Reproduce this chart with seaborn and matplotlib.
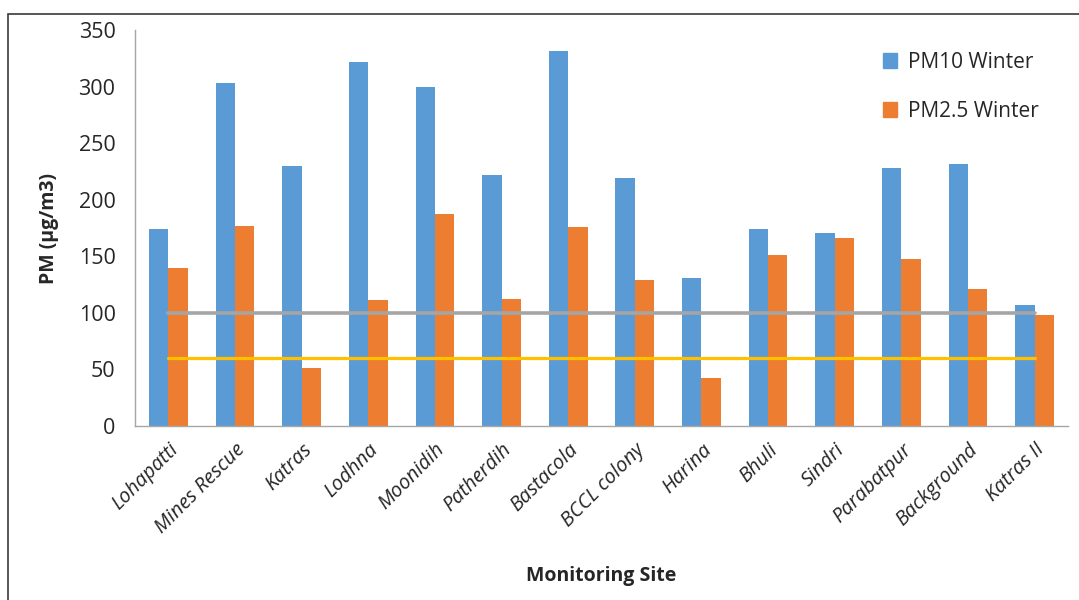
import matplotlib
matplotlib.use("Agg")
import matplotlib.pyplot as plt
import matplotlib.patches as mpatches
import seaborn as sns
import pandas as pd
import numpy as np

sites = ["Lohapatti", "Mines Rescue", "Katras", "Lodhna", "Moonidih", "Patherdih",
         "Bastacola", "BCCL colony", "Harina", "Bhuli", "Sindri", "Parabatpur",
         "Background", "Katras II"]
pm10_winter = [174, 303, 230, 322, 300, 222, 331, 219, 131, 174, 171, 228, 232, 107]
pm25_winter = [140, 177, 51, 111, 187, 112, 176, 129, 42, 151, 166, 148, 121, 98]
pm10_standard = 100
pm25_standard = 60
series_names = ["PM10 Winter", "PM2.5 Winter"]
yticks = [0, 50, 100, 150, 200, 250, 300, 350]

df = pd.DataFrame({
    "site": sites * 2,
    "value": pm10_winter + pm25_winter,
    "series": [series_names[0]] * len(sites) + [series_names[1]] * len(sites),
})

sns.set_style("white")
plt.rcParams["font.family"] = ["Open Sans", "DejaVu Sans"]

fig = plt.figure(figsize=(10.79, 6.0), dpi=100)
ax = fig.add_axes([135 / 1079, 1 - 426 / 600, 933 / 1079, 396 / 600])

palette = {series_names[0]: "#5B9BD5", series_names[1]: "#ED7D31"}
sns.barplot(data=df, x="site", y="value", hue="series", order=sites,
            hue_order=series_names, palette=palette, width=0.58, saturation=1,
            ax=ax, legend=False, linewidth=0)

n = len(sites)
ax.plot(range(n), [pm10_standard] * n, color="#A5A5A5", lw=2.6, zorder=3)
ax.plot(range(n), [pm25_standard] * n, color="#FFC000", lw=2.3, zorder=3)

ax.set_xlim(-0.5, n - 0.5)
ax.set_ylim(0, 350)
ax.set_yticks(yticks)
ax.set_yticklabels([str(v) for v in yticks], fontsize=15.5, color="#262626")
ax.set_xticks(range(n))
ax.set_xticklabels(sites, rotation=45, ha="right", rotation_mode="anchor",
                   fontsize=14.5, style="italic", color="#262626")
ax.tick_params(axis="x", which="major", length=0, pad=10)
ax.set_xticks(np.arange(-0.5, n, 1.0), minor=True)
ax.tick_params(axis="x", which="minor", length=6, color="#A6A6A6", width=1)
ax.tick_params(axis="y", length=6, color="#A6A6A6", width=1, pad=8)

for s in ["top", "right"]:
    ax.spines[s].set_visible(False)
for s in ["left", "bottom"]:
    ax.spines[s].set_color("#A6A6A6")
    ax.spines[s].set_linewidth(1)

ax.set_xlabel("Monitoring Site", fontsize=14, fontweight="bold", labelpad=20)
ax.set_ylabel("PM (µg/m3)", fontsize=14, fontweight="bold", labelpad=14)

handles = [mpatches.Patch(color=palette[s], label=s) for s in series_names]
fig.legend(handles=handles, loc="upper left", bbox_to_anchor=(864 / 1079, 1 - 33 / 600),
           frameon=False, fontsize=15, handlelength=0.7, handleheight=0.7,
           labelspacing=1.35, handletextpad=0.5)

border = mpatches.Rectangle((8 / 1079, -0.1), 1.2, 1.1 - 14 / 600, transform=fig.transFigure,
                            fill=False, edgecolor="#3a3a3a", lw=1.2)
fig.patches.append(border)

fig.savefig("out.png", dpi=100)
